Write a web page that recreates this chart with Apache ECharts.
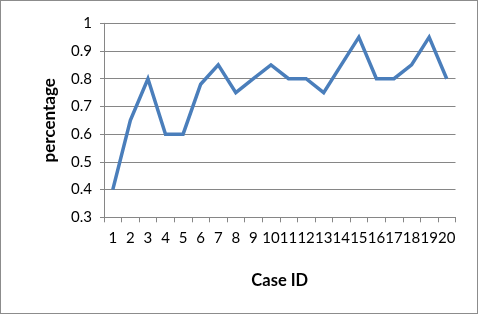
<!DOCTYPE html>
<html><head><meta charset="utf-8">
<script src="https://cdn.jsdelivr.net/npm/echarts@6/dist/echarts.min.js"></script>
<style>
html,body{margin:0;padding:0;background:#fff;}
#frame{position:absolute;left:0;top:0;width:476px;height:312px;border:1px solid #8c8c8c;}
#c{position:absolute;left:0;top:0;width:478px;height:314px;}
</style></head>
<body><div id="frame"></div><div id="c"></div>
<script>
const categories = ['1','2','3','4','5','6','7','8','9','10','11','12','13','14','15','16','17','18','19','20'];
const percentage = [0.4,0.65,0.8,0.6,0.6,0.78,0.85,0.75,0.8,0.85,0.8,0.8,0.75,0.85,0.95,0.8,0.8,0.85,0.95,0.8];
const yMin = 0.3, yMax = 1, yStep = 0.1;
const FONT = 'Lato, "Open Sans", sans-serif';
const chart = echarts.init(document.getElementById('c'));
chart.setOption({
  animation:false,
  grid:{left:104,right:22.5,top:23.3,bottom:96.7,containLabel:false},
  xAxis:{type:'category',data:categories,boundaryGap:true,
    name:'Case ID',nameLocation:'middle',nameGap:55,
    nameTextStyle:{fontFamily:FONT,fontWeight:'bold',fontSize:16.5,color:'#000'},
    axisLine:{lineStyle:{color:'#868686',width:1}},
    axisTick:{show:true,alignWithLabel:false,length:5,lineStyle:{color:'#868686'}},
    axisLabel:{fontFamily:FONT,fontSize:15,color:'#000',margin:13,interval:0}},
  yAxis:{type:'value',min:yMin,max:yMax,interval:yStep,
    name:'percentage',nameLocation:'middle',nameGap:46,nameRotate:90,
    nameTextStyle:{fontFamily:FONT,fontWeight:'bold',fontSize:17,color:'#000'},
    axisLine:{show:true,lineStyle:{color:'#868686',width:1}},
    axisTick:{show:true,length:4,lineStyle:{color:'#868686'}},
    axisLabel:{fontFamily:FONT,fontSize:15,color:'#000',margin:12,
      formatter:v=>String(Math.round(v*10)/10)},
    splitLine:{show:true,lineStyle:{color:'#868686',width:1}}},
  series:[{type:'line',data:percentage,showSymbol:false,symbol:'none',
    lineStyle:{color:'#4a7ebb',width:3.5,join:'miter'}}]
});
</script></body></html>
